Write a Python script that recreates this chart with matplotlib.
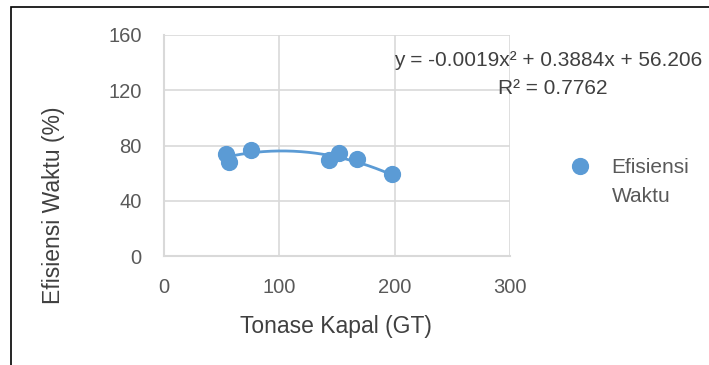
# Scatter efisiensi waktu vs tonase kapal, met polynomiale trendlijn
import matplotlib.pyplot as plt
import numpy as np
from matplotlib.patches import Rectangle

# Data
tonase = [53.7, 56.5, 75.3, 143.1, 151.8, 167.5, 197.6]
efisiensi = [74.1, 68.1, 77.0, 69.3, 74.6, 70.0, 59.6]
koefisien = [-0.0019, 0.3884, 56.206]
r_kuadrat = 0.7762
x_ticks = [0, 100, 200, 300]
y_ticks = [0, 40, 80, 120, 160]

BLAUW = '#5B9BD5'
GRIJS = '#D9D9D9'
TEKST = '#595959'

plt.rcParams['font.family'] = ['Liberation Sans', 'DejaVu Sans']


def draw():
    fig = plt.figure(figsize=(7.09, 3.65), dpi=100)
    ax = fig.add_axes([164 / 709, 1 - 256 / 365, 346 / 709, 221 / 365])

    # Grid en assen
    ax.set_xlim(x_ticks[0], x_ticks[-1])
    ax.set_ylim(y_ticks[0], y_ticks[-1])
    ax.set_xticks(x_ticks)
    ax.set_yticks(y_ticks)
    ax.grid(color=GRIJS, linewidth=1.2)
    ax.set_axisbelow(True)
    for kant in ['top', 'right']:
        ax.spines[kant].set_visible(False)
    for kant in ['left', 'bottom']:
        ax.spines[kant].set_color(GRIJS)
        ax.spines[kant].set_linewidth(1.5)
    ax.tick_params(length=0, labelsize=14.5, colors=TEKST)
    ax.tick_params(axis='x', pad=16)
    ax.tick_params(axis='y', pad=16)

    # Trendlijn (2e orde)
    xs = np.linspace(min(tonase), max(tonase), 200)
    ax.plot(xs, np.polyval(koefisien, xs), color=BLAUW, linewidth=2, zorder=2)

    # Punten
    ax.scatter(tonase, efisiensi, s=130, color=BLAUW, zorder=3,
               label='Efisiensi\nWaktu', clip_on=False)

    ax.set_xlabel('Tonase Kapal (GT)', fontsize=16.5, color='#404040', va='center')
    ax.xaxis.set_label_coords(0.497, -0.32)
    ax.set_ylabel('Efisiensi Waktu (%)', fontsize=16.5, color='#404040', va='center')
    ax.yaxis.set_label_coords(-0.318, 0.23)

    leg = ax.legend(loc='upper left', bbox_to_anchor=(570 / 709, 1 - 158 / 365),
                    bbox_transform=fig.transFigure, frameon=False, fontsize=15,
                    handletextpad=1.0, borderpad=0, borderaxespad=0,
                    handlelength=1.0, scatteryoffsets=[1.6])
    for t in leg.get_texts():
        t.set_color(TEKST)
        t.set_linespacing(1.65)

    # Vergelijking en R^2
    a, b, c = koefisien
    fig.text(394 / 709, 1 - 60 / 365, f'y = {a}x² + {b}x + {c}',
             ha='left', va='center', fontsize=15, color='#404040')
    fig.text(553 / 709, 1 - 88 / 365, f'R² = {r_kuadrat}',
             ha='center', va='center', fontsize=15, color='#404040')

    # Zwart kader rond de grafiek
    fig.patches.append(Rectangle((11 / 709, -0.05), 1.1, 1 - 7 / 365 + 0.05,
                                 transform=fig.transFigure, fill=False,
                                 edgecolor='black', linewidth=1.2))

    fig.savefig('out.png', dpi=100)


def main():
    draw()


if __name__ == "__main__":
    main()
